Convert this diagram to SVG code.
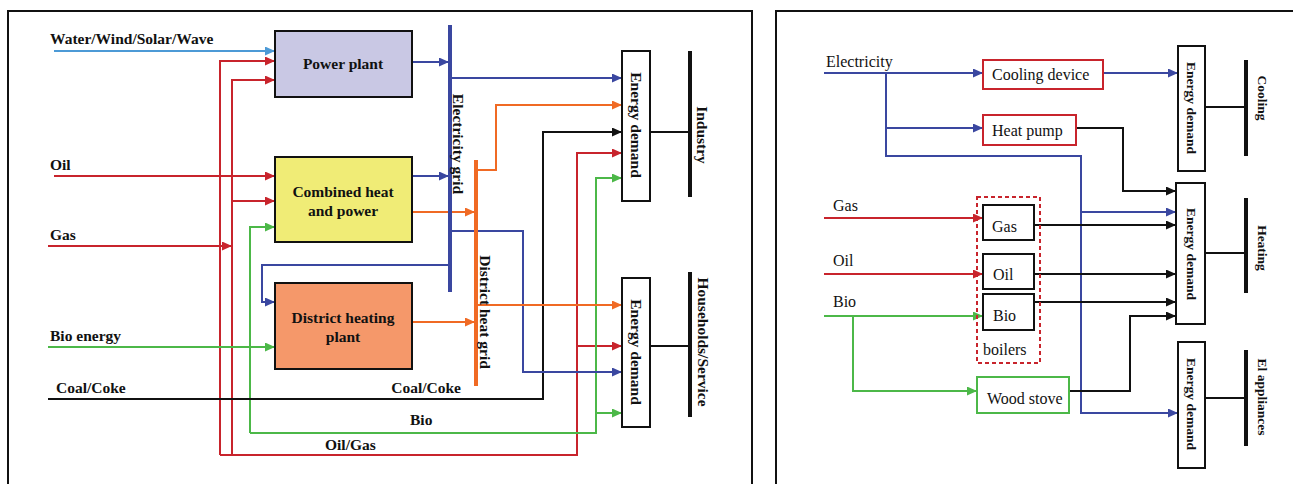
<svg xmlns="http://www.w3.org/2000/svg" width="1293" height="484" viewBox="0 0 1293 484">
<style>
.lbl{font-family:"Liberation Serif","Times New Roman",serif;font-weight:bold;font-size:15.5px;fill:#111}
.rl{font-family:"Liberation Serif","Times New Roman",serif;font-size:16px;fill:#111}
.rb{font-family:"Liberation Serif","Times New Roman",serif;font-weight:bold;font-size:13.5px;fill:#111}
.box{stroke:#111;stroke-width:2}
.c{fill:none;stroke-width:2}
.bl{stroke:#3a47a0}
.lb{stroke:#4c9ad6}
.rd{stroke:#c8242c}
.gr{stroke:#4cb848}
.or{stroke:#f06a24}
.bk{stroke:#111}
.bar{fill:none;stroke-width:4}
.frame{fill:none;stroke:#111;stroke-width:2}
</style>
<defs>
<marker id="aBl" markerUnits="userSpaceOnUse" markerWidth="10" markerHeight="9" refX="10" refY="4.5" orient="auto"><path d="M0,0 L10,4.5 L0,9 z" fill="#3a47a0"/></marker>
<marker id="aLb" markerUnits="userSpaceOnUse" markerWidth="10" markerHeight="9" refX="10" refY="4.5" orient="auto"><path d="M0,0 L10,4.5 L0,9 z" fill="#4c9ad6"/></marker>
<marker id="aRd" markerUnits="userSpaceOnUse" markerWidth="10" markerHeight="9" refX="10" refY="4.5" orient="auto"><path d="M0,0 L10,4.5 L0,9 z" fill="#c8242c"/></marker>
<marker id="aGr" markerUnits="userSpaceOnUse" markerWidth="10" markerHeight="9" refX="10" refY="4.5" orient="auto"><path d="M0,0 L10,4.5 L0,9 z" fill="#4cb848"/></marker>
<marker id="aOr" markerUnits="userSpaceOnUse" markerWidth="10" markerHeight="9" refX="10" refY="4.5" orient="auto"><path d="M0,0 L10,4.5 L0,9 z" fill="#f06a24"/></marker>
<marker id="aBk" markerUnits="userSpaceOnUse" markerWidth="10" markerHeight="9" refX="10" refY="4.5" orient="auto"><path d="M0,0 L10,4.5 L0,9 z" fill="#111"/></marker>
</defs>

<g id="frames">
<path class="frame" d="M8,484 V11 H752 V484"/>
<path class="frame" d="M776,484 V11 H1293"/>
</g>

<g id="connectors">
<!-- left panel -->
<path class="c lb" d="M54,51 H275" marker-end="url(#aLb)"/>
<path class="c rd" d="M220,455 V61 H275" marker-end="url(#aRd)"/>
<path class="c rd" d="M232,455 V80 H275" marker-end="url(#aRd)"/>
<path class="c rd" d="M232,201 H275" marker-end="url(#aRd)"/>
<path class="c rd" d="M54,176 H275" marker-end="url(#aRd)"/>
<path class="c rd" d="M48,246 H232" marker-end="url(#aRd)"/>
<path class="c rd" d="M220,455 H577 V153 H622" marker-end="url(#aRd)"/>
<path class="c rd" d="M577,346 H622" marker-end="url(#aRd)"/>
<path class="c gr" d="M48,347 H275" marker-end="url(#aGr)"/>
<path class="c gr" d="M250,433 V227 H275" marker-end="url(#aGr)"/>
<path class="c gr" d="M250,433 H596 V178 H622" marker-end="url(#aGr)"/>
<path class="c gr" d="M596,413 H622" marker-end="url(#aGr)"/>
<path class="c bk" d="M48,399 H543 V132 H622" marker-end="url(#aBk)"/>
<path class="c bl" d="M412,62 H449" marker-end="url(#aBl)"/>
<path class="c bl" d="M412,176 H449" marker-end="url(#aBl)"/>
<path class="c bl" d="M450,78 H622" marker-end="url(#aBl)"/>
<path class="c bl" d="M450,231 H523 V372 H622" marker-end="url(#aBl)"/>
<path class="c bl" d="M448,265 H262 V302 H275" marker-end="url(#aBl)"/>
<path class="c or" d="M412,212 H475" marker-end="url(#aOr)"/>
<path class="c or" d="M412,322 H475" marker-end="url(#aOr)"/>
<path class="c or" d="M476,170 H496 V105 H622" marker-end="url(#aOr)"/>
<path class="c or" d="M476,305 H622" marker-end="url(#aOr)"/>
<path class="c bk" d="M650,132 H690"/>
<path class="c bk" d="M650,346 H690"/>
<!-- right panel -->
<path class="c bl" d="M824,73 H983" marker-end="url(#aBl)"/>
<path class="c bl" d="M886,73 V156 H1081 V413 H1178" marker-end="url(#aBl)"/>
<path class="c bl" d="M886,128 H983" marker-end="url(#aBl)"/>
<path class="c bl" d="M1081,212 H1176" marker-end="url(#aBl)"/>
<path class="c bl" d="M1103,73 H1178" marker-end="url(#aBl)"/>
<path class="c rd" d="M824,218 H983" marker-end="url(#aRd)"/>
<path class="c rd" d="M824,274 H983" marker-end="url(#aRd)"/>
<path class="c gr" d="M824,316 H983" marker-end="url(#aGr)"/>
<path class="c gr" d="M853,316 V391 H977" marker-end="url(#aGr)"/>
<path class="c bk" d="M1074,128 H1123 V191 H1176" marker-end="url(#aBk)"/>
<path class="c bk" d="M1032,225 H1176" marker-end="url(#aBk)"/>
<path class="c bk" d="M1032,274 H1176" marker-end="url(#aBk)"/>
<path class="c bk" d="M1032,302 H1176" marker-end="url(#aBk)"/>
<path class="c bk" d="M1067,391 H1130 V316 H1176" marker-end="url(#aBk)"/>
<path class="c bk" d="M1205,107 H1246"/>
<path class="c bk" d="M1205,253 H1246"/>
<path class="c bk" d="M1205,398 H1246"/>
</g>

<!-- left panel nodes -->
<g id="src-water"><text class="lbl" x="50" y="44">Water/Wind/Solar/Wave</text></g>
<g id="src-oil"><text class="lbl" x="50" y="170">Oil</text></g>
<g id="src-gas"><text class="lbl" x="50" y="240">Gas</text></g>
<g id="src-bio"><text class="lbl" x="50" y="341">Bio energy</text></g>
<g id="src-coal"><text class="lbl" x="56" y="393">Coal/Coke</text></g>
<g id="lbl-coal2"><text class="lbl" x="461" y="393" text-anchor="end">Coal/Coke</text></g>
<g id="lbl-bio2"><text class="lbl" x="410" y="425">Bio</text></g>
<g id="lbl-oilgas"><text class="lbl" x="325" y="450">Oil/Gas</text></g>

<g id="power-plant">
<rect class="box" x="275" y="31" width="137" height="66" fill="#c9c8e4"/>
<text class="lbl" x="343" y="69" text-anchor="middle">Power plant</text>
</g>
<g id="chp">
<rect class="box" x="275" y="157" width="137" height="85" fill="#f0ec76"/>
<text class="lbl" x="343" y="197" text-anchor="middle">Combined heat</text>
<text class="lbl" x="343" y="216" text-anchor="middle">and power</text>
</g>
<g id="dh-plant">
<rect class="box" x="275" y="283" width="137" height="86" fill="#f5986a"/>
<text class="lbl" x="343" y="323" text-anchor="middle">District heating</text>
<text class="lbl" x="343" y="342" text-anchor="middle">plant</text>
</g>
<g id="elec-grid">
<path class="bar" stroke="#3a47a0" d="M450,25 V292"/>
<text class="lbl" transform="translate(453,144) rotate(90)" text-anchor="middle">Electricity grid</text>
</g>
<g id="heat-grid">
<path class="bar" stroke="#f06a24" d="M476,160 V386"/>
<text class="lbl" transform="translate(480,312) rotate(90)" text-anchor="middle">District heat grid</text>
</g>
<g id="demand-industry">
<rect class="box" x="622" y="51" width="28" height="150" fill="#fff"/>
<text class="lbl" transform="translate(631,125) rotate(90)" text-anchor="middle">Energy demand</text>
</g>
<g id="industry">
<path class="bar" stroke="#111" d="M690,51 V197"/>
<text class="lbl" transform="translate(697,135) rotate(90)" text-anchor="middle">Industry</text>
</g>
<g id="demand-households">
<rect class="box" x="622" y="278" width="28" height="149" fill="#fff"/>
<text class="lbl" transform="translate(631,352) rotate(90)" text-anchor="middle">Energy demand</text>
</g>
<g id="households">
<path class="bar" stroke="#111" d="M690,272 V417"/>
<text class="lbl" transform="translate(698,342) rotate(90)" text-anchor="middle">Households/Service</text>
</g>

<!-- right panel nodes -->
<g id="r-electricity"><text class="rl" x="826" y="67">Electricity</text></g>
<g id="r-gas"><text class="rl" x="833" y="211">Gas</text></g>
<g id="r-oil"><text class="rl" x="833" y="266">Oil</text></g>
<g id="r-bio"><text class="rl" x="833" y="307">Bio</text></g>
<g id="cooling-device">
<rect x="983" y="60" width="120" height="29" fill="#fff" stroke="#c8242c" stroke-width="2"/>
<text class="rl" x="992" y="80">Cooling device</text>
</g>
<g id="heat-pump">
<rect x="983" y="115" width="93" height="30" fill="#fff" stroke="#c8242c" stroke-width="2"/>
<text class="rl" x="992" y="136">Heat pump</text>
</g>
<g id="boilers">
<rect x="977" y="197" width="63" height="166" fill="none" stroke="#c8242c" stroke-width="2" stroke-dasharray="4,3"/>
<text class="rl" x="983" y="355">boilers</text>
</g>
<g id="boiler-gas">
<rect class="box" x="983" y="205" width="51" height="35" fill="#fff"/>
<text class="rl" x="992" y="232">Gas</text>
</g>
<g id="boiler-oil">
<rect class="box" x="983" y="254" width="51" height="35" fill="#fff"/>
<text class="rl" x="993" y="280">Oil</text>
</g>
<g id="boiler-bio">
<rect class="box" x="983" y="294" width="51" height="36" fill="#fff"/>
<text class="rl" x="993" y="321">Bio</text>
</g>
<g id="wood-stove">
<rect x="977" y="377" width="92" height="36" fill="#fff" stroke="#4cb848" stroke-width="2"/>
<text class="rl" x="987" y="404">Wood stove</text>
</g>
<g id="demand-cooling">
<rect class="box" x="1178" y="46" width="27" height="125" fill="#fff"/>
<text class="rb" transform="translate(1187,108) rotate(90)" text-anchor="middle">Energy demand</text>
</g>
<g id="cooling">
<path class="bar" stroke="#111" d="M1246,60 V156"/>
<text class="rb" transform="translate(1258,98) rotate(90)" text-anchor="middle">Cooling</text>
</g>
<g id="demand-heating">
<rect class="box" x="1176" y="183" width="29" height="141" fill="#fff"/>
<text class="rb" transform="translate(1187,254) rotate(90)" text-anchor="middle">Energy demand</text>
</g>
<g id="heating">
<path class="bar" stroke="#111" d="M1246,198 V293"/>
<text class="rb" transform="translate(1258,248) rotate(90)" text-anchor="middle">Heating</text>
</g>
<g id="demand-el">
<rect class="box" x="1178" y="342" width="27" height="126" fill="#fff"/>
<text class="rb" transform="translate(1187,404) rotate(90)" text-anchor="middle">Energy demand</text>
</g>
<g id="el-appliances">
<path class="bar" stroke="#111" d="M1246,350 V446"/>
<text class="rb" transform="translate(1258,397) rotate(90)" text-anchor="middle">El appliances</text>
</g>
</svg>
